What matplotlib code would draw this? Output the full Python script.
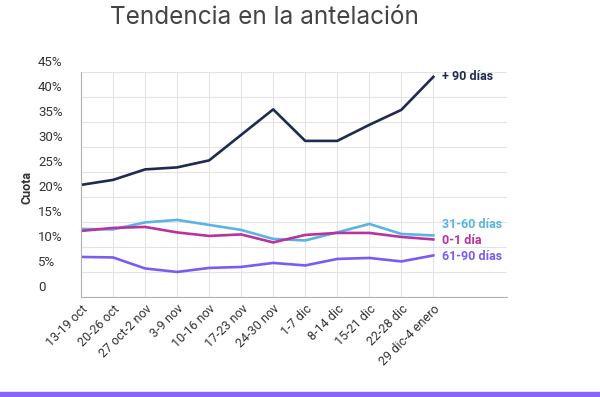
import matplotlib.pyplot as plt
import matplotlib.transforms as mtransforms
from matplotlib.patches import Rectangle

semanas = ['13-19 oct', '20-26 oct', '27 oct-2 nov', '3-9 nov', '10-16 nov', '17-23 nov',
           '24-30 nov', '1-7 dic', '8-14 dic', '15-21 dic', '22-28 dic', '29 dic-4 enero']
mas_90 = [22.4, 23.4, 25.5, 25.9, 27.3, 32.4, 37.5, 31.2, 31.2, 34.4, 37.4, 44.0]
d31_60 = [13.6, 13.5, 14.9, 15.4, 14.4, 13.4, 11.6, 11.3, 12.9, 14.6, 12.6, 12.3]
d0_1 = [13.2, 13.8, 14.0, 12.9, 12.2, 12.5, 10.9, 12.4, 12.8, 12.8, 12.0, 11.5]
d61_90 = [8.0, 7.9, 5.7, 5.0, 5.8, 6.0, 6.8, 6.3, 7.6, 7.8, 7.1, 8.3]
y_ticks = [0, 5, 10, 15, 20, 25, 30, 35, 40, 45]

series = [
    ('+ 90 días', mas_90, '#1f2a4f', 0),
    ('31-60 días', d31_60, '#5ab4e3', 8),
    ('0-1 día', d0_1, '#b8339e', -1),
    ('61-90 días', d61_90, '#7b5cf2', -1),
]

plt.rcParams['font.family'] = ['Roboto', 'DejaVu Sans']

fig = plt.figure(figsize=(6, 3.97), dpi=100)
ax = fig.add_axes([0.135, 0.252, 0.71, 0.567])

x = list(range(len(semanas)))
for nombre, vals, color, dy in series:
    ax.plot(x, vals, color=color, lw=1.9)
    ax.annotate(nombre, xy=(x[-1], vals[-1]), xytext=(6, dy), textcoords='offset points',
                color=color, fontsize=9, fontweight='bold', va='center', ha='left')

ax.set_xlim(0, 13.3)
ax.set_ylim(0, 45)
ax.set_xticks(x)
ax.set_xticklabels(semanas, rotation=45, ha='right', rotation_mode='anchor',
                   fontsize=9, color='#333333')
ax.set_yticks(y_ticks)
ax.set_yticklabels([])
ax.tick_params(length=0)
ax.tick_params(axis='x', pad=4)

trans = mtransforms.blended_transform_factory(fig.transFigure, ax.transData)
off = mtransforms.ScaledTranslation(0, 7 / 72, fig.dpi_scale_trans)
for v in y_ticks:
    lab = '0' if v == 0 else f'{v}%'
    ax.text(38 / 600, v, lab, transform=trans + off, ha='left', va='center',
            fontsize=9.5, color='#333333')

ax.grid(True, color='#e4e4e4', lw=0.8)
ax.set_axisbelow(True)
for s in ['top', 'right']:
    ax.spines[s].set_visible(False)
ax.spines['left'].set_color('#b0b0b0')
ax.spines['bottom'].set_color('#b0b0b0')

fig.text(27 / 600, 1 - 187 / 397, 'Cuota', rotation=90, ha='center', va='center',
         fontsize=9, fontweight='bold', color='#333333')
fig.text(264 / 600, 1 - 18 / 397, 'Tendencia en la antelación', ha='center', va='center',
         fontsize=17.5, color='#444444', family=['Inter', 'DejaVu Sans'])

fig.patches.append(Rectangle((0, 0), 1, 5 / 397, transform=fig.transFigure,
                             color='#8a63fc', zorder=0))

fig.savefig('out.png', dpi=100)
